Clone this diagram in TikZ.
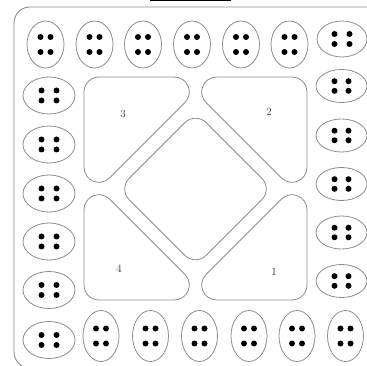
\documentclass[tikz,border=0pt]{standalone}
\usetikzlibrary{shapes.geometric,calc}
\definecolor{linegray}{RGB}{140,140,140}
\tikzset{
  oval/.style={draw=linegray, line width=0.8pt, ellipse, inner sep=0pt},
  vov/.style={oval, minimum width=37pt, minimum height=47pt},
  vovb/.style={oval, minimum width=36pt, minimum height=51pt},
  hovl/.style={oval, minimum width=52pt, minimum height=37pt},
  hovr/.style={oval, minimum width=51pt, minimum height=33pt},
  region/.style={draw=linegray, line width=0.8pt},
  diam/.style={draw=linegray, line width=0.8pt, rounded corners=15pt},
  frame/.style={draw=linegray, line width=0.9pt, rounded corners=16pt},
  lbl/.style={font=\fontsize{11}{13}\selectfont, text=black!80, inner sep=0pt}
}
\newcommand\quaddots[3]{%
  \foreach \sx in {-1,1}{\foreach \sy in {-1,1}{\fill ($(#1)+(\sx*#2,\sy*#3)$) circle (3pt);}}}
% rounded right triangle: #1 right-angle vertex, #2 and #3 acute vertices
\newcommand\roundtri[3]{%
  \draw[region] ($(#1)!15pt!(#2)$) -- ($(#2)!36.2pt!(#1)$)
    .. controls ($(#2)!22.85pt!(#1)$) and ($(#2)!22.85pt!(#3)$) .. ($(#2)!36.2pt!(#3)$)
    -- ($(#3)!36.2pt!(#2)$)
    .. controls ($(#3)!22.85pt!(#2)$) and ($(#3)!22.85pt!(#1)$) .. ($(#3)!36.2pt!(#1)$)
    -- ($(#1)!15pt!(#3)$)
    .. controls ($(#1)!6.7pt!(#3)$) and ($(#1)!6.7pt!(#2)$) .. ($(#1)!15pt!(#2)$) -- cycle;}
\begin{document}
\begin{tikzpicture}[x=1pt,y=-1pt]
\useasboundingbox (0,0) rectangle (367,366);
\begin{scope}
  \clip (0,0) rectangle (367,366);
  \draw[frame] (14,7) rectangle (385,368);
  \fill[black] (150,0) rectangle (231,1.4);
\end{scope}
% top row
\foreach \x [count=\i] in {45.5,94.5,143,192,241,289.5}{
  \node[vov] (t\i) at (\x,44.5) {};
  \quaddots{t\i}{5}{7.5}
}
\node[oval, minimum width=50pt, minimum height=36pt] (tr) at (342,39) {};
\quaddots{tr}{7.5}{5}
% right column
\foreach \y [count=\i] in {86,135.5,184,232.5,281}{
  \node[hovr] (r\i) at (341.5,\y) {};
  \quaddots{r\i}{7}{4.8}
}
% left column
\foreach \y [count=\i] in {95.5,144.5,193.5,241.5,290,340}{
  \node[hovl] (l\i) at (49,\y) {};
  \quaddots{l\i}{7.5}{5}
}
% bottom row
\foreach \x [count=\i] in {101,150.5,199.5,249,297,345.5}{
  \node[vovb] (b\i) at (\x,336) {};
  \quaddots{b\i}{5}{7.5}
}
% triangle vertices
\coordinate (a3) at (84,77);   \coordinate (b3) at (210.5,77);  \coordinate (c3) at (84,203.5);
\coordinate (a2) at (307,77);  \coordinate (b2) at (180.5,77);  \coordinate (c2) at (307,203.5);
\coordinate (a4) at (84,300);  \coordinate (b4) at (210.5,300); \coordinate (c4) at (84,173.5);
\coordinate (a1) at (307,300); \coordinate (b1) at (180.5,300); \coordinate (c1) at (307,173.5);
\roundtri{a3}{b3}{c3}
\roundtri{a2}{b2}{c2}
\roundtri{a4}{b4}{c4}
\roundtri{a1}{b1}{c1}
\draw[diam] (195.5,112) -- (272.5,189) -- (195.5,266) -- (118.5,189) -- cycle;
% labels
\node[lbl] (n3) at (123,114) {3};
\node[lbl] (n2) at (269,112) {2};
\node[lbl] (n4) at (119,269) {4};
\node[lbl] (n1) at (274,272) {1};
\end{tikzpicture}
\end{document}
